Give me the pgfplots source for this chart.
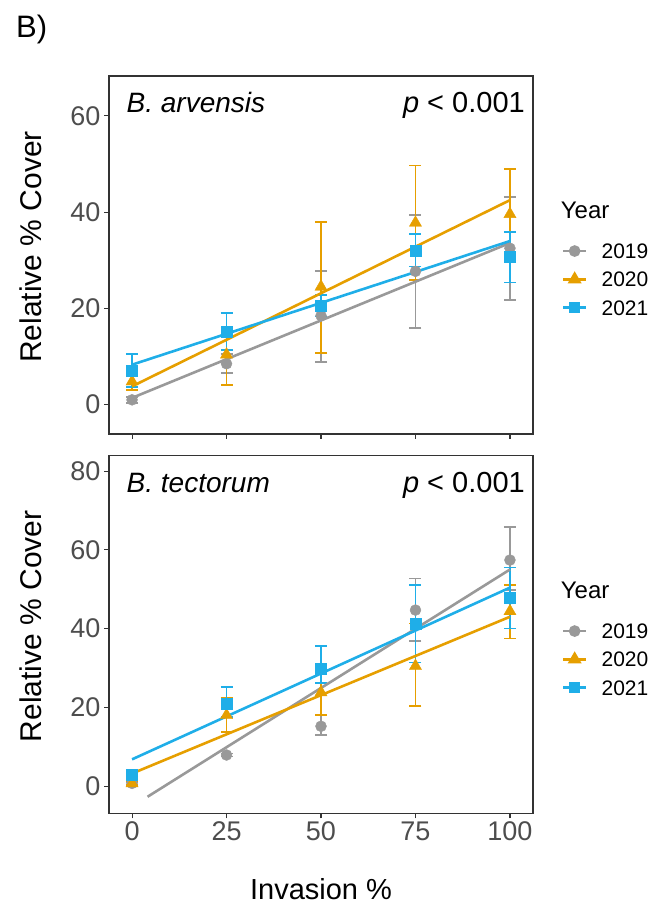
\documentclass[border=0pt]{standalone}
\usepackage{pgfplots}
\pgfplotsset{compat=1.18}
\usepackage{pgfplotstable}
\usepackage{fontspec}
\setmainfont{Liberation Sans}
\definecolor{c19}{HTML}{999999}
\definecolor{c20}{HTML}{E69F00}
\definecolor{c21}{HTML}{1FAEE8}
\definecolor{tickgray}{HTML}{4D4D4D}
\definecolor{framegray}{HTML}{333333}

% Top panel: B. arvensis
\pgfplotstableread{
x y ep em
0 1.0 0.6 0.6
25 8.5 2.0 1.9
50 18.5 9.3 9.6
75 27.7 11.7 11.7
100 32.5 10.7 10.7
}\aOne
\pgfplotstableread{
x y ep em
0 4.8 1.4 1.7
25 10.4 5.5 6.4
50 24.5 13.4 13.8
75 37.8 11.9 11.9
100 39.6 9.4 9.9
}\aTwo
\pgfplotstableread{
x y ep em
0 7.05 3.45 3.45
25 15.2 3.8 3.8
50 20.6 2.2 2.3
75 31.9 3.5 3.2
100 30.8 5.0 5.4
}\aThree
% Bottom panel: B. tectorum
\pgfplotstableread{
x y ep em
0 0.7 0.3 0.3
25 7.9 0.4 0.4
50 15.2 2.8 2.3
75 44.7 8.0 7.8
100 57.4 8.3 7.7
}\tOne
\pgfplotstableread{
x y ep em
0 0.7 0.5 0.5
25 18.0 4.3 4.2
50 23.8 6.1 5.8
75 30.5 10.8 10.2
100 44.4 6.6 6.9
}\tTwo
\pgfplotstableread{
x y ep em
0 3.0 0.5 0.5
25 21.0 4.2 3.4
50 29.9 5.6 3.8
75 41.3 9.7 9.9
100 47.9 7.6 7.9
}\tThree

\pgfplotsset{
  error bars/error bar style={line width=1.8bp, solid},
  error bars/error mark options={line width=1.8bp, mark size=6bp, rotate=90},
  panel/.style={
    scale only axis, width=424bp, height=358bp, anchor=south west,
    xmin=-6.1, xmax=106.1,
    xtick={0,25,50,75,100},
    axis line style={framegray, line width=1.1bp},
    tick style={framegray, line width=1.1bp},
    major tick length=5bp,
    tick align=outside,
    xtick pos=left, ytick pos=left,
    ticklabel style={font=\fontsize{27bp}{27bp}\selectfont, text=tickgray},
    /pgf/number format/assume math mode=true,
    clip=false,
    legend cell align=left,
    legend image code/.code={\draw[mark repeat=2,mark phase=2,##1] plot coordinates {(0bp,0bp) (11.65bp,0bp) (23.3bp,0bp)};},
    legend style={draw=none, fill=none, inner sep=0pt, outer sep=0pt,
      font=\fontsize{21bp}{21bp}\selectfont,
      nodes={inner sep=0pt, text height=15bp, text depth=0pt},
      row sep=13.3bp,
      /tikz/every odd column/.append style={column sep=14bp}},
  },
  fit/.style={forget plot, no marks, line width=2.6bp},
}

\begin{document}
\begin{tikzpicture}
\path[use as bounding box] (0bp,0bp) rectangle (651bp,904bp);

% ---------- top panel ----------
\begin{axis}[panel, at={(109bp,470bp)},
  ymin=-6.1, ymax=68.3, ytick={0,20,40,60}, xticklabels=\empty,
  legend style={at={(1.0677,0.532)}, anchor=north west}]
\addplot[c19, forget plot, only marks, mark=*, mark size=5.5bp, mark options={solid, fill=c19},
  error bars/.cd, y dir=both, y explicit] table[x=x, y=y, y error plus=ep, y error minus=em] \aOne;
\addplot[c20, forget plot, only marks, mark=triangle*, mark size=7bp, mark options={solid, fill=c20},
  error bars/.cd, y dir=both, y explicit] table[x=x, y=y, y error plus=ep, y error minus=em] \aTwo;
\addplot[c21, forget plot, only marks, mark=square*, mark size=5.5bp, mark options={solid, fill=c21},
  error bars/.cd, y dir=both, y explicit] table[x=x, y=y, y error plus=ep, y error minus=em] \aThree;
\addplot[c19, fit] coordinates {(0,1.4) (100,33.6)};
\addplot[c20, fit] coordinates {(0,3.8) (100,42.5)};
\addplot[c21, fit] coordinates {(0,8.3) (100,34.0)};
\addlegendimage{c19, line width=2.6bp, mark=*, mark size=4.5bp, mark options={solid, fill=c19}}
\addlegendentry{2019}
\addlegendimage{c20, line width=2.6bp, mark=triangle*, mark size=5.5bp, mark options={solid, fill=c20}}
\addlegendentry{2020}
\addlegendimage{c21, line width=2.6bp, mark=square*, mark size=4.5bp, mark options={solid, fill=c21}}
\addlegendentry{2021}
\end{axis}

% ---------- bottom panel ----------
\begin{axis}[panel, at={(109bp,90.7bp)},
  ymin=-6.9, ymax=84.0, ytick={0,20,40,60,80},
  legend style={at={(1.0677,0.530)}, anchor=north west}]
\addplot[c19, forget plot, only marks, mark=*, mark size=5.5bp, mark options={solid, fill=c19},
  error bars/.cd, y dir=both, y explicit] table[x=x, y=y, y error plus=ep, y error minus=em] \tOne;
\addplot[c20, forget plot, only marks, mark=triangle*, mark size=7bp, mark options={solid, fill=c20},
  error bars/.cd, y dir=both, y explicit] table[x=x, y=y, y error plus=ep, y error minus=em] \tTwo;
\addplot[c21, forget plot, only marks, mark=square*, mark size=5.5bp, mark options={solid, fill=c21},
  error bars/.cd, y dir=both, y explicit] table[x=x, y=y, y error plus=ep, y error minus=em] \tThree;
\addplot[c19, fit] coordinates {(4.1,-2.7) (100,55.0)};
\addplot[c20, fit] coordinates {(0,3.2) (100,43.0)};
\addplot[c21, fit] coordinates {(0,6.8) (100,50.4)};
\addlegendimage{c19, line width=2.6bp, mark=*, mark size=4.5bp, mark options={solid, fill=c19}}
\addlegendentry{2019}
\addlegendimage{c20, line width=2.6bp, mark=triangle*, mark size=5.5bp, mark options={solid, fill=c20}}
\addlegendentry{2020}
\addlegendimage{c21, line width=2.6bp, mark=square*, mark size=4.5bp, mark options={solid, fill=c21}}
\addlegendentry{2021}
\end{axis}

% ---------- texts ----------
\node[anchor=base west, inner sep=0pt, font=\fontsize{31bp}{31bp}\selectfont] at (16bp,866bp) {B)};
\node[anchor=base west, inner sep=0pt, font=\fontsize{28bp}{28bp}\selectfont\itshape] at (126.5bp,791bp) {B. arvensis};
\node[anchor=base east, inner sep=0pt, font=\fontsize{29bp}{29bp}\selectfont] at (525bp,791bp) {\textit{p} < 0.001};
\node[anchor=base west, inner sep=0pt, font=\fontsize{28bp}{28bp}\selectfont\itshape] at (126.5bp,411bp) {B. tectorum};
\node[anchor=base east, inner sep=0pt, font=\fontsize{29bp}{29bp}\selectfont] at (525bp,411bp) {\textit{p} < 0.001};
\node[anchor=base, rotate=90, inner sep=0pt, font=\fontsize{30bp}{30bp}\selectfont] at (41.7bp,657bp) {Relative \% Cover};
\node[anchor=base, rotate=90, inner sep=0pt, font=\fontsize{30bp}{30bp}\selectfont] at (41.7bp,277.7bp) {Relative \% Cover};
\node[anchor=base, inner sep=0pt, font=\fontsize{29bp}{29bp}\selectfont] at (321bp,4.7bp) {Invasion \%};
\node[anchor=base west, inner sep=0pt, font=\fontsize{24bp}{24bp}\selectfont] at (560.7bp,685.7bp) {Year};
\node[anchor=base west, inner sep=0pt, font=\fontsize{24bp}{24bp}\selectfont] at (560.7bp,305.7bp) {Year};
\end{tikzpicture}
\end{document}
